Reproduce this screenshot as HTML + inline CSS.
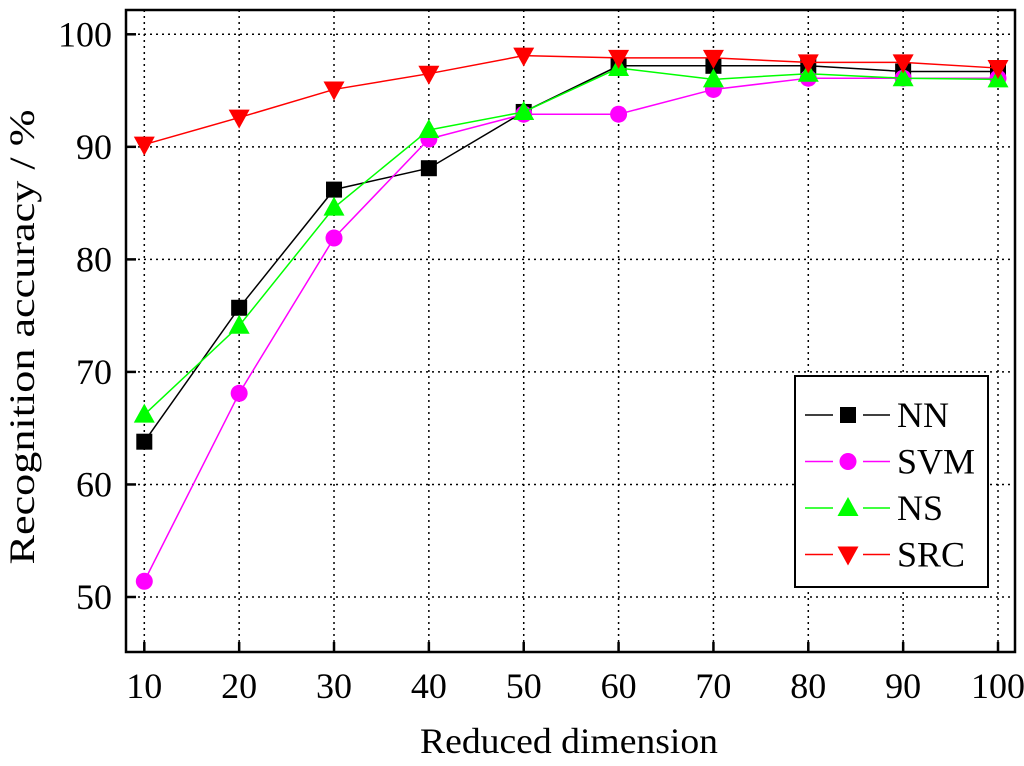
<!DOCTYPE html>
<html><head><meta charset="utf-8"><style>
body{margin:0;background:#fff}
text{font-family:"Liberation Serif",serif;fill:#000}
</style></head><body>
<svg id="chart" width="1024" height="761" xmlns="http://www.w3.org/2000/svg"></svg>
<script>
const categories=[10,20,30,40,50,60,70,80,90,100];
const nnValues=[63.8,75.7,86.2,88.1,93.1,97.2,97.2,97.2,96.7,96.7];
const svmValues=[51.4,68.1,81.9,90.7,92.9,92.9,95.1,96.1,96.1,96.1];
const nsValues=[66.2,74.1,84.6,91.5,93.1,97.0,96.0,96.5,96.1,96.0];
const srcValues=[90.2,92.6,95.1,96.5,98.1,97.9,97.9,97.5,97.5,97.0];
const yTicks=[50,60,70,80,90,100];
const seriesNames=["NN","SVM","NS","SRC"];

const svg=document.getElementById('chart');
const NS_='http://www.w3.org/2000/svg';
const L=126,R=1015,T=10,B=652;
function xs(v){return 144.3+(v-10)*(998-144.3)/90;}
function ys(v){return 597-(v-50)*(597-34.3)/50;}
function mk(tag,attrs,parent){const e=document.createElementNS(NS_,tag);for(const k in attrs)e.setAttribute(k,attrs[k]);(parent||svg).appendChild(e);return e;}

categories.forEach(c=>{const l=mk('line',{x1:xs(c),x2:xs(c),y1:T,y2:B,stroke:'#000','stroke-width':1.5,'stroke-dasharray':'2,4'});

});
yTicks.forEach(v=>{const l=mk('line',{x1:L,x2:R,y1:ys(v),y2:ys(v),stroke:'#000','stroke-width':1.5,'stroke-dasharray':'2,4'});

});
categories.forEach(c=>{const t=mk('line',{x1:xs(c),x2:xs(c),y1:B,y2:B-10,stroke:'#000','stroke-width':2.5});


const tx=mk('text',{x:xs(c),y:698,'text-anchor':'middle','font-size':36});tx.textContent=c;

});
yTicks.forEach(v=>{const t=mk('line',{x1:L,x2:L+10,y1:ys(v),y2:ys(v),stroke:'#000','stroke-width':2.5});


const tx=mk('text',{x:112,y:ys(v)+12,'text-anchor':'end','font-size':36});tx.textContent=v;

});
const frame=mk('rect',{x:L,y:T,width:R-L,height:B-T,fill:'none',stroke:'#000','stroke-width':2.5});



function marker(type,x,y,color,parent){
  if(type==='sq')return mk('rect',{x:x-8,y:y-8,width:16,height:16,fill:color},parent);
  if(type==='ci')return mk('circle',{cx:x,cy:y,r:8.5,fill:color},parent);
  if(type==='up')return mk('polygon',{points:`${x},${y-11} ${x-10.5},${y+8} ${x+10.5},${y+8}`,fill:color},parent);
  return mk('polygon',{points:`${x-10.5},${y-8} ${x+10.5},${y-8} ${x},${y+11}`,fill:color},parent);
}
const series=[[nnValues,'#000','sq'],[svmValues,'#ff00ff','ci'],[nsValues,'#00ff00','up'],[srcValues,'#ff0000','dn']];
series.forEach((s,i)=>{
  const g=mk('g',{});
  
  
  mk('polyline',{points:s[0].map((v,j)=>xs(categories[j])+','+ys(v)).join(' '),fill:'none',stroke:s[1],'stroke-width':1.5},g);
  s[0].forEach((v,j)=>{const m=marker(s[2],xs(categories[j]),ys(v),s[1],g);
    
    });
});
const lg=mk('g',{});


mk('rect',{x:795,y:376,width:193,height:211,fill:'#fff',stroke:'#000','stroke-width':2},lg);
series.forEach((s,i)=>{
  const y=415+i*46.5;
  const e=mk('g',{},lg);
  
  
  mk('line',{x1:805,x2:833,y1:y,y2:y,stroke:s[1],'stroke-width':1.5},e);
  mk('line',{x1:863,x2:890,y1:y,y2:y,stroke:s[1],'stroke-width':1.5},e);
  marker(s[2],848,y,s[1],e);
  const t=mk('text',{x:897,y:y+12,'font-size':36},e);t.textContent=seriesNames[i];
});
const xt=mk('text',{x:569,y:753,'text-anchor':'middle','font-size':36,textLength:298,lengthAdjust:'spacingAndGlyphs'});xt.textContent='Reduced dimension';


const yt=mk('text',{x:0,y:0,'text-anchor':'middle','font-size':36,textLength:455,lengthAdjust:'spacingAndGlyphs',transform:'translate(34,337) rotate(-90)'});yt.textContent='Recognition accuracy / %';


</script>
</body></html>
